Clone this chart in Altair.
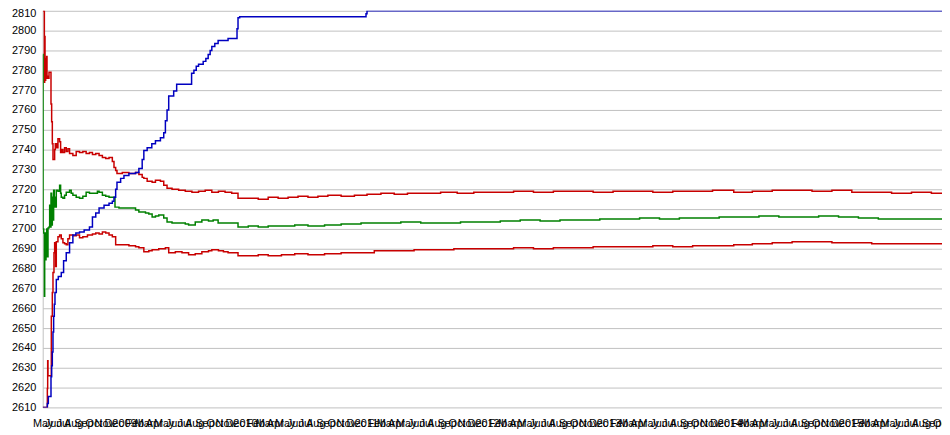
import altair as alt
import pandas as pd

START = "2008-05-01"
END_DAY = 2712

# ---- series data: (day offset from start, value) ----
blue_days = [0, 14, 17, 25, 27, 29, 31, 33, 35, 37, 41, 47, 56, 63, 71, 81, 91, 100, 111, 125,
             141, 150, 160, 170, 185, 200, 210, 215, 220, 224, 235, 245, 260, 280, 290, 300, 305, 315, 329, 340,
             355, 365, 370, 375, 380, 395, 404, 440, 449, 456, 463, 470, 484, 492, 499, 505, 510, 519, 529, 559,
             583, 586, 589, 594, 969, 975, 978, 2712]
blue_vals = [2610, 2612, 2615.5, 2625.5, 2631, 2638, 2648, 2656, 2662, 2668, 2674.5, 2676, 2678, 2684, 2688, 2693, 2697, 2698, 2698.5, 2699.5,
             2701, 2706, 2708, 2710.5, 2712, 2713, 2714, 2716, 2720, 2723.5, 2725.5, 2727, 2728, 2728.5, 2730.5, 2735, 2739.5, 2741, 2743, 2744.5,
             2746, 2748.5, 2754.5, 2760, 2767, 2769.5, 2773, 2773, 2778.5, 2780, 2782, 2783, 2784.5, 2786, 2788, 2790, 2792, 2793.5, 2795, 2796,
             2796, 2801, 2806.5, 2807, 2807, 2808.5, 2810, 2810]

hi_days = [0, 5, 6, 7, 9, 10, 12, 13, 16, 19, 25, 27, 29, 31, 36, 38, 42, 46, 51, 54,
           57, 61, 66, 71, 76, 81, 91, 101, 111, 121, 131, 141, 150, 160, 170, 180, 190, 200, 210, 215,
           220, 224, 240, 260, 280, 290, 300, 305, 315, 330, 340, 355, 365, 375, 390, 410, 430, 450, 470, 490,
           510, 530, 550, 570, 589, 620, 650, 680, 710, 740, 770, 800, 830, 860, 900, 940, 978, 1020, 1060, 1100,
           1150, 1200, 1250, 1300, 1366, 1420, 1480, 1540, 1600, 1660, 1720, 1780, 1840, 1900, 1960, 2020, 2084, 2140, 2200, 2260,
           2320, 2380, 2440, 2500, 2560, 2620, 2680, 2712]
hi_vals = [2810, 2774, 2797, 2775, 2786, 2776, 2787, 2777, 2776, 2779, 2763, 2754, 2743, 2735, 2740, 2743, 2741, 2745.5, 2744, 2738.5,
           2740, 2738.5, 2741, 2739, 2740.5, 2738, 2737, 2739, 2738.5, 2739, 2738, 2738.5, 2737.5, 2738, 2737, 2736, 2735.5, 2736, 2734, 2731,
           2729.5, 2728, 2728.5, 2728, 2728.5, 2727.5, 2726, 2725.5, 2724, 2723.5, 2724.5, 2724, 2722, 2720.5, 2720, 2719.5, 2719, 2718.5, 2719, 2719.5,
           2718.5, 2719, 2718.5, 2718, 2715.5, 2715.5, 2715, 2716, 2715.5, 2716, 2716.5, 2716, 2716.5, 2717, 2716.5, 2717, 2717.5, 2718, 2717.5, 2718,
           2718, 2718.5, 2718, 2718.5, 2718.5, 2719, 2718.5, 2719, 2719, 2718.5, 2719, 2719, 2718.5, 2719, 2719, 2719.5, 2718.5, 2719, 2719.5, 2719.5,
           2719, 2719.5, 2718.5, 2718.5, 2718, 2718.5, 2718, 2718]

mid_days = [0, 1, 3, 5, 6, 8, 10, 12, 14, 16, 19, 21, 22, 25, 27, 29, 31, 33, 35, 37,
            39, 41, 46, 51, 54, 56, 61, 66, 71, 81, 86, 91, 101, 111, 121, 131, 141, 155, 165, 170,
            180, 190, 200, 210, 218, 230, 250, 270, 280, 290, 310, 320, 330, 340, 350, 365, 375, 390, 410, 430,
            440, 460, 480, 500, 514, 529, 559, 589, 620, 650, 680, 720, 760, 800, 850, 900, 960, 1020, 1080, 1140,
            1200, 1260, 1320, 1380, 1440, 1500, 1560, 1620, 1680, 1740, 1800, 1860, 1920, 1980, 2040, 2100, 2160, 2220, 2280, 2340,
            2400, 2460, 2520, 2580, 2640, 2712]
mid_vals = [2788, 2700, 2698, 2666, 2698, 2684.5, 2688, 2700, 2686, 2700.5, 2701, 2712, 2701, 2718, 2702, 2716, 2704.5, 2719.5, 2711, 2716,
            2711, 2719.5, 2719, 2722, 2718, 2716, 2715.5, 2717, 2718.5, 2719.5, 2718, 2717, 2716, 2715.5, 2716.5, 2718.5, 2718, 2718, 2719, 2718.5,
            2717, 2716.5, 2716, 2716, 2711, 2710.5, 2710.5, 2710.5, 2709.5, 2708.5, 2708, 2707.5, 2706, 2706.5, 2707, 2705.5, 2703.5, 2703, 2703, 2702.5,
            2702, 2703.5, 2704.5, 2704, 2704.5, 2703, 2703, 2701, 2701.5, 2701, 2701.5, 2701.5, 2702, 2701.5, 2702, 2702.5, 2703, 2703, 2703.5, 2703,
            2703, 2703.5, 2703.5, 2704, 2704.5, 2704, 2704.5, 2704.5, 2705, 2705, 2705.5, 2705, 2705.5, 2705.5, 2706, 2706, 2706.5, 2706, 2706, 2706.5,
            2706, 2705.5, 2705, 2705, 2705, 2705]

lo_days = [0, 14, 15, 16, 26, 29, 31, 34, 36, 39, 41, 46, 51, 56, 61, 66, 71, 76, 81, 91,
           101, 111, 121, 135, 150, 160, 170, 180, 190, 200, 210, 220, 240, 260, 280, 290, 305, 320, 330, 350,
           370, 380, 400, 420, 440, 460, 480, 500, 510, 530, 545, 559, 589, 620, 650, 680, 720, 760, 800, 850,
           900, 960, 1000, 1060, 1120, 1180, 1240, 1300, 1366, 1420, 1480, 1540, 1600, 1660, 1720, 1780, 1840, 1900, 1960, 2020,
           2084, 2140, 2200, 2260, 2320, 2380, 2440, 2500, 2560, 2620, 2680, 2712]
lo_vals = [2610, 2619.5, 2633.5, 2626, 2656, 2668, 2678, 2688, 2693, 2681, 2693.5, 2696, 2697, 2695, 2693, 2692.5, 2692, 2695, 2697, 2696.5,
           2697, 2695.5, 2696, 2697, 2697.5, 2698, 2697.5, 2698.5, 2698, 2697, 2696, 2692, 2692, 2691.5, 2691, 2690.5, 2688.5, 2689, 2689.5, 2690,
           2690.5, 2688, 2688.5, 2688, 2687, 2687.5, 2688.5, 2689, 2689.5, 2689, 2688.5, 2688, 2686.5, 2686.5, 2687, 2686.5, 2687, 2687.5, 2687, 2687.5,
           2688, 2688, 2689, 2689, 2689.5, 2689.5, 2690, 2690, 2690, 2690.5, 2690, 2690.5, 2690.5, 2691, 2691, 2691, 2691.5, 2691, 2691.5, 2691.5,
           2692, 2692.5, 2693, 2693.5, 2693.5, 2693, 2693, 2692.5, 2692.5, 2692.5, 2692.5, 2692.5]

y_ticks = [2610, 2620, 2630, 2640, 2650, 2660, 2670, 2680, 2690, 2700, 2710,
           2720, 2730, 2740, 2750, 2760, 2770, 2780, 2790, 2800, 2810]

series_names = ["upper", "lower", "middle", "total"]
series_colors = ["#c80000", "#c80000", "#008000", "#0000c0"]

start = pd.Timestamp(START)
frames = []
for name, days, vals in [("upper", hi_days, hi_vals), ("lower", lo_days, lo_vals),
                         ("middle", mid_days, mid_vals), ("total", blue_days, blue_vals)]:
    assert len(days) == len(vals), name
    frames.append(pd.DataFrame({
        "date": start + pd.to_timedelta(days, unit="D"),
        "value": vals,
        "series": name,
    }))
df = pd.concat(frames, ignore_index=True)
df["date"] = df["date"].dt.strftime("%Y-%m-%d")

end = (start + pd.Timedelta(days=END_DAY)).strftime("%Y-%m-%d")

x = alt.X("date:T", title=None,
          scale=alt.Scale(domain=[START, end], nice=False),
          axis=alt.Axis(grid=False, ticks=False, domain=False, labelOverlap=False,
                        tickCount={"interval": "month", "step": 1},
                        labelExpr="month(datum.value) == 0 ? timeFormat(datum.value, '%Y') : timeFormat(datum.value, '%b')",
                        labelFont="Liberation Sans", labelFontSize=11, labelColor="#000000",
                        labelPadding=10, labelFlush=False))
y = alt.Y("value:Q", title=None,
          scale=alt.Scale(domain=[2610, 2810], nice=False, zero=False),
          axis=alt.Axis(values=y_ticks, format="d", grid=True, gridColor="#c0c0c0", gridWidth=1,
                        ticks=False, domain=True, domainColor="#c0c0c0",
                        labelFont="Liberation Sans", labelFontSize=11, labelColor="#000000",
                        labelPadding=7, labelFlush=False,
                        labelOffset={"condition": {"test": "datum.value >= 2810", "value": 3}, "value": 0}))

chart = alt.Chart(df).mark_line(interpolate="step-after", strokeWidth=1.5, clip=True).encode(
    x=x, y=y,
    color=alt.Color("series:N", scale=alt.Scale(domain=series_names, range=series_colors), legend=None),
).properties(
    width=907, height=400,
    autosize=alt.AutoSizeParams(type="none"),
    padding={"left": 35, "top": 1, "right": 0, "bottom": 26},
).configure_view(stroke=None)

chart.save("out.html", embed_options={"renderer": "svg", "actions": False})
